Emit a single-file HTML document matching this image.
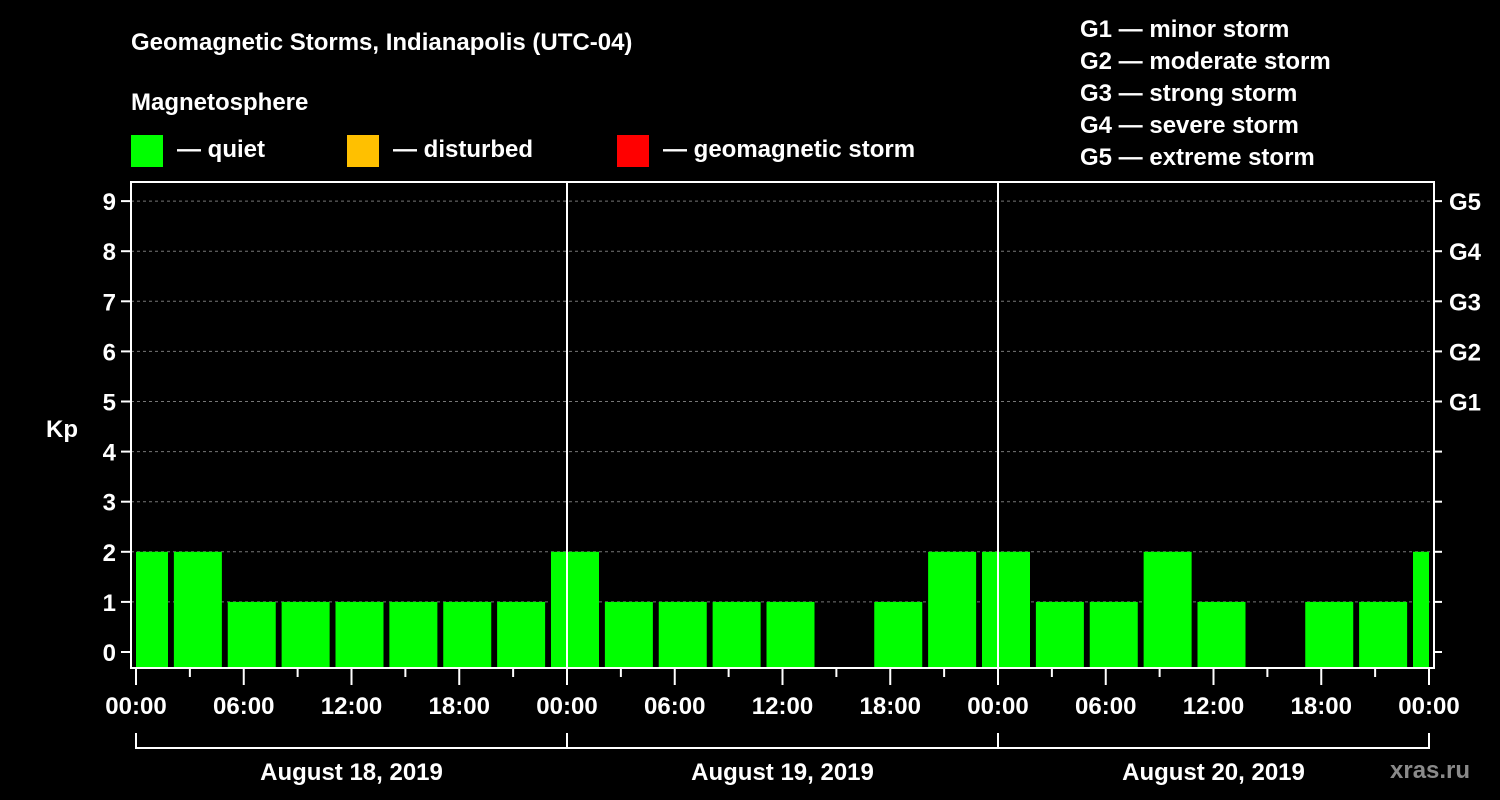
<!DOCTYPE html>
<html><head><meta charset="utf-8"><style>
html,body{margin:0;padding:0;background:#000;width:1500px;height:800px;overflow:hidden}
svg text{font-family:"Liberation Sans",Arial,sans-serif;font-weight:bold;fill:#fff}
</style></head><body>
<svg id="chart" width="1500" height="800" xmlns="http://www.w3.org/2000/svg">
<text x="131" y="50" font-size="24">Geomagnetic Storms, Indianapolis (UTC-04)</text>
<text x="131" y="110" font-size="24">Magnetosphere</text>
<g><rect x="131" y="135" width="32" height="32" fill="#00ff00"/><text x="177" y="157" font-size="24">— quiet</text></g>
<g><rect x="347" y="135" width="32" height="32" fill="#ffc000"/><text x="393" y="157" font-size="24">— disturbed</text></g>
<g><rect x="617" y="135" width="32" height="32" fill="#ff0000"/><text x="663" y="157" font-size="24">— geomagnetic storm</text></g>
<g font-size="24">
<text x="1080" y="37">G1 — minor storm</text>
<text x="1080" y="69">G2 — moderate storm</text>
<text x="1080" y="101">G3 — strong storm</text>
<text x="1080" y="133">G4 — severe storm</text>
<text x="1080" y="165">G5 — extreme storm</text>
</g>
<text x="62" y="437" font-size="24" text-anchor="middle">Kp</text>
<text x="1390" y="778" font-size="24" fill="#888" style="fill:#8a8a8a">xras.ru</text>
<g id="grid"></g><g id="bars"></g><g id="axes"></g>
</svg>
<script>
const kpValues=[2,2,1,1,1,1,1,1,2,1,1,1,1,null,1,2,2,1,1,2,1,null,1,1,2];
const yTicks=[0,1,2,3,4,5,6,7,8,9];
const gLabels=["G1","G2","G3","G4","G5"];
const gLevels=[5,6,7,8,9];
const xTickLabels=["00:00","06:00","12:00","18:00","00:00","06:00","12:00","18:00","00:00","06:00","12:00","18:00","00:00"];
const dayLabels=["August 18, 2019","August 19, 2019","August 20, 2019"];
const NS="http://www.w3.org/2000/svg";
const L=131,R=1434,T=182,B=668,X0=136,DAY=431;
const yS=v=>652-v*50.1;
const xS=h=>X0+h*DAY/24;
function mk(tag,attrs,parent){const e=document.createElementNS(NS,tag);for(const k in attrs)e.setAttribute(k,attrs[k]);parent.appendChild(e);return e;}
const grid=document.getElementById('grid'),bars=document.getElementById('bars'),axes=document.getElementById('axes');
yTicks.forEach(v=>{if(v===0)return;const l=mk('line',{x1:L,x2:R,y1:yS(v),y2:yS(v),stroke:'#777','stroke-dasharray':'3,3','stroke-width':1},grid);

});
kpValues.forEach((v,i)=>{if(v===null)return;
let x1=xS(3*i)-16,x2=x1+48;x1=Math.max(x1,X0);x2=Math.min(x2,xS(72));
const c=v>=5?'#ff0000':(v>=4?'#ffc000':'#00ff00');
const r=mk('rect',{x:x1,y:yS(v),width:x2-x1,height:B-yS(v),fill:c},bars);

});
const fr=mk('rect',{x:L,y:T,width:R-L,height:B-T,fill:'none',stroke:'#fff','stroke-width':2},axes);


[1,2].forEach(d=>{const l=mk('line',{x1:xS(24*d),x2:xS(24*d),y1:T,y2:B,stroke:'#fff','stroke-width':2},axes);

});
yTicks.forEach(v=>{mk('line',{x1:121,x2:L,y1:yS(v),y2:yS(v),stroke:'#fff','stroke-width':2},axes);
mk('line',{x1:R,x2:1442,y1:yS(v),y2:yS(v),stroke:'#fff','stroke-width':2},axes);
const t=mk('text',{x:116,y:yS(v)+9,'font-size':24,'text-anchor':'end'},axes);t.textContent=v;

});
gLevels.forEach((v,i)=>{const t=mk('text',{x:1449,y:yS(v)+9,'font-size':24},axes);t.textContent=gLabels[i];

});
for(let h=0;h<=72;h+=3){const major=h%6===0;mk('line',{x1:xS(h),x2:xS(h),y1:B,y2:major?685:677,stroke:'#fff','stroke-width':2},axes);}
xTickLabels.forEach((s,i)=>{const t=mk('text',{x:xS(6*i),y:714,'font-size':24,'text-anchor':'middle'},axes);t.textContent=s;

});
mk('line',{x1:xS(0),x2:xS(72),y1:748,y2:748,stroke:'#fff','stroke-width':2},axes);
for(let d=0;d<=3;d++)mk('line',{x1:xS(24*d),x2:xS(24*d),y1:733,y2:749,stroke:'#fff','stroke-width':2},axes);
dayLabels.forEach((s,i)=>{const t=mk('text',{x:xS(24*i+12),y:780,'font-size':24,'text-anchor':'middle'},axes);t.textContent=s;

});
</script>
</body></html>
